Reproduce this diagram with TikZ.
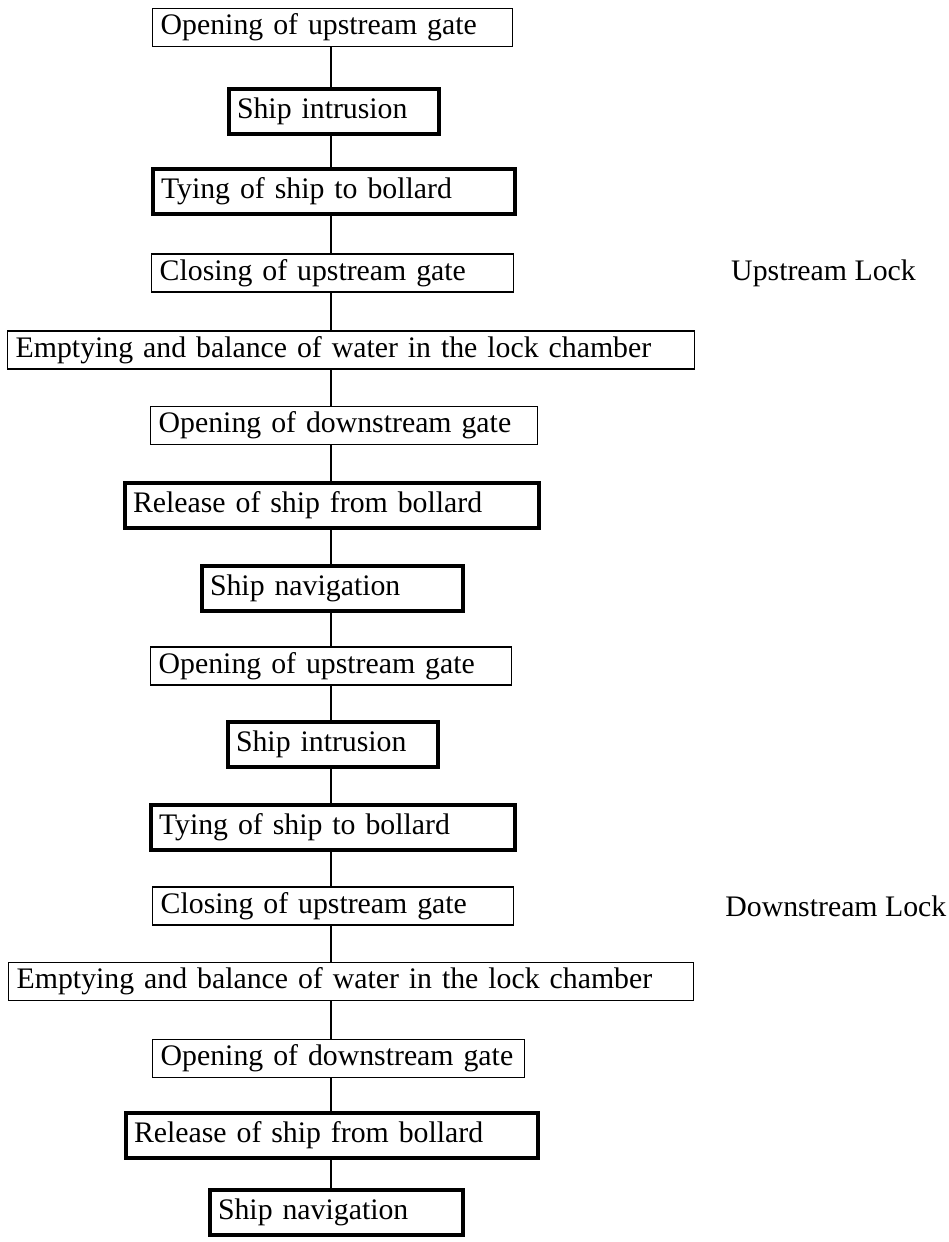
\documentclass[tikz,border=0pt]{standalone}
\usepackage{fontspec}
\setmainfont{Liberation Serif}
\tikzset{%
  % Specifications for style of nodes:
        base/.style = {rectangle, draw=black, align=left, anchor=west,
                       inner xsep=4pt, inner ysep=0pt,
                       font=\fontsize{14.9}{17}\selectfont},
    gateStep/.style = {base, line width=0.7pt, minimum height=19pt},
    shipStep/.style = {base, line width=2pt, minimum height=22.5pt},
   lockLabel/.style = {font=\fontsize{14.9}{17}\selectfont},
}

\begin{document}
\begin{tikzpicture}[x=0.5pt, y=-0.5pt, line width=1pt]
  \useasboundingbox (0,0) rectangle (948,1242);
  \coordinate (spine) at (331,0);
  % Upstream lock
  \node (openUpA)     [gateStep, text width=172pt]   at (152,27.5)  {Opening of upstream gate};
  \node (intrusionA)  [shipStep, text width=97pt]    at (227,111)   {Ship intrusion};
  \node (tyingA)      [shipStep, text width=173pt]   at (151,191.5) {Tying of ship to bollard};
  \node (closeUpA)    [gateStep, text width=173pt]   at (151,273)   {Closing of upstream gate};
  \node (emptyA)      [gateStep, text width=335.5pt] at (7,350)     {Emptying and balance of water in the lock chamber};
  \node (openDownA)   [gateStep, text width=185.5pt] at (150,425.5) {Opening of downstream gate};
  \node (releaseA)    [shipStep, text width=199pt]   at (123,505)   {Release of ship from bollard};
  \node (navA)        [shipStep, text width=122.5pt] at (200,588)   {Ship navigation};
  % Downstream lock
  \node (openUpB)     [gateStep, text width=172.5pt] at (150,666)    {Opening of upstream gate};
  \node (intrusionB)  [shipStep, text width=97pt]    at (226,744.5)  {Ship intrusion};
  \node (tyingB)      [shipStep, text width=174pt]   at (149,827)    {Tying of ship to bollard};
  \node (closeUpB)    [gateStep, text width=172.5pt] at (152,906)    {Closing of upstream gate};
  \node (emptyB)      [gateStep, text width=334.5pt] at (8,981.5)    {Emptying and balance of water in the lock chamber};
  \node (openDownB)   [gateStep, text width=178pt]   at (152,1058.5) {Opening of downstream gate};
  \node (releaseB)    [shipStep, text width=198pt]   at (124,1135.5) {Release of ship from bollard};
  \node (navB)        [shipStep, text width=118.5pt] at (208,1212)   {Ship navigation};
  % Lock names
  \node (upLock)   [lockLabel] at (823.5,273) {Upstream Lock};
  \node (downLock) [lockLabel, anchor=east] at (954,906) {Downstream Lock};
  % Lines between the steps, all on the spine
  \draw (openUpA.south -| spine)    -- (intrusionA.north -| spine);
  \draw (intrusionA.south -| spine) -- (tyingA.north -| spine);
  \draw (tyingA.south -| spine)     -- (closeUpA.north -| spine);
  \draw (closeUpA.south -| spine)   -- (emptyA.north -| spine);
  \draw (emptyA.south -| spine)     -- (openDownA.north -| spine);
  \draw (openDownA.south -| spine)  -- (releaseA.north -| spine);
  \draw (releaseA.south -| spine)   -- (navA.north -| spine);
  \draw (navA.south -| spine)       -- (openUpB.north -| spine);
  \draw (openUpB.south -| spine)    -- (intrusionB.north -| spine);
  \draw (intrusionB.south -| spine) -- (tyingB.north -| spine);
  \draw (tyingB.south -| spine)     -- (closeUpB.north -| spine);
  \draw (closeUpB.south -| spine)   -- (emptyB.north -| spine);
  \draw (emptyB.south -| spine)     -- (openDownB.north -| spine);
  \draw (openDownB.south -| spine)  -- (releaseB.north -| spine);
  \draw (releaseB.south -| spine)   -- (navB.north -| spine);
\end{tikzpicture}
\end{document}
